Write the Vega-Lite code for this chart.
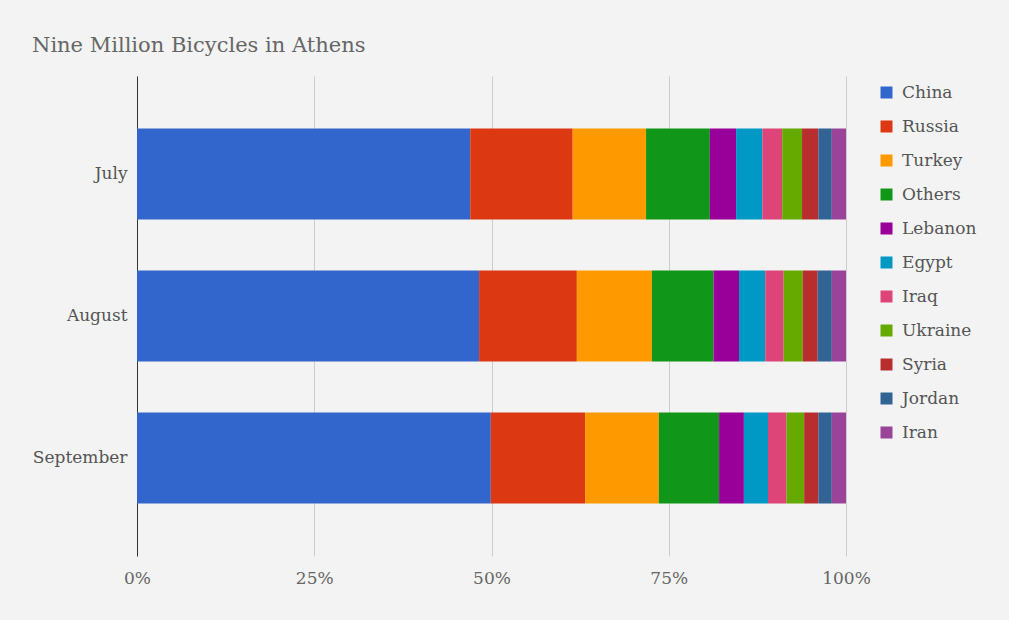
{
  "$schema": "https://vega.github.io/schema/vega-lite/v6.json",
  "autosize": {"type": "none"},
  "width": 709,
  "height": 480,
  "padding": {"left": 137, "top": 76, "right": 163, "bottom": 64},
  "background": "#f3f3f3",
  "title": {
    "text": "Nine Million Bicycles in Athens",
    "anchor": "start",
    "frame": "group",
    "dx": -105,
    "offset": 20,
    "font": "DejaVu Serif",
    "fontSize": 21,
    "fontWeight": "normal",
    "color": "#666666"
  },
  "config": {
    "view": {"stroke": null},
    "font": "DejaVu Serif"
  },
  "data": {
    "values": [
      {"month": "July", "country": "China", "k": 1, "value": 47.0},
      {"month": "July", "country": "Russia", "k": 2, "value": 14.45},
      {"month": "July", "country": "Turkey", "k": 3, "value": 10.35},
      {"month": "July", "country": "Others", "k": 4, "value": 9.0},
      {"month": "July", "country": "Lebanon", "k": 5, "value": 3.7},
      {"month": "July", "country": "Egypt", "k": 6, "value": 3.7},
      {"month": "July", "country": "Iraq", "k": 7, "value": 2.8},
      {"month": "July", "country": "Ukraine", "k": 8, "value": 2.8},
      {"month": "July", "country": "Syria", "k": 9, "value": 2.3},
      {"month": "July", "country": "Jordan", "k": 10, "value": 1.9},
      {"month": "July", "country": "Iran", "k": 11, "value": 2.0},
      {"month": "August", "country": "China", "k": 1, "value": 48.3},
      {"month": "August", "country": "Russia", "k": 2, "value": 13.8},
      {"month": "August", "country": "Turkey", "k": 3, "value": 10.6},
      {"month": "August", "country": "Others", "k": 4, "value": 8.7},
      {"month": "August", "country": "Lebanon", "k": 5, "value": 3.6},
      {"month": "August", "country": "Egypt", "k": 6, "value": 3.7},
      {"month": "August", "country": "Iraq", "k": 7, "value": 2.6},
      {"month": "August", "country": "Ukraine", "k": 8, "value": 2.7},
      {"month": "August", "country": "Syria", "k": 9, "value": 2.1},
      {"month": "August", "country": "Jordan", "k": 10, "value": 2.0},
      {"month": "August", "country": "Iran", "k": 11, "value": 2.0},
      {"month": "September", "country": "China", "k": 1, "value": 49.9},
      {"month": "September", "country": "Russia", "k": 2, "value": 13.3},
      {"month": "September", "country": "Turkey", "k": 3, "value": 10.4},
      {"month": "September", "country": "Others", "k": 4, "value": 8.5},
      {"month": "September", "country": "Lebanon", "k": 5, "value": 3.5},
      {"month": "September", "country": "Egypt", "k": 6, "value": 3.4},
      {"month": "September", "country": "Iraq", "k": 7, "value": 2.6},
      {"month": "September", "country": "Ukraine", "k": 8, "value": 2.5},
      {"month": "September", "country": "Syria", "k": 9, "value": 2.0},
      {"month": "September", "country": "Jordan", "k": 10, "value": 1.9},
      {"month": "September", "country": "Iran", "k": 11, "value": 2.0}
    ]
  },
  "mark": {"type": "bar"},
  "encoding": {
    "y": {
      "field": "month",
      "type": "nominal",
      "sort": ["July", "August", "September"],
      "scale": {"paddingInner": 0.36, "paddingOuter": 0.37},
      "axis": {
        "title": null,
        "ticks": false,
        "domain": true,
        "domainColor": "#333333",
        "domainWidth": 1,
        "labelFont": "DejaVu Serif",
        "labelFontSize": 17,
        "labelColor": "#555555",
        "labelPadding": 10
      }
    },
    "x": {
      "field": "value",
      "type": "quantitative",
      "stack": "normalize",
      "scale": {"domain": [0, 1], "nice": false},
      "axis": {
        "title": null,
        "values": [0, 0.25, 0.5, 0.75, 1],
        "format": ".0%",
        "ticks": false,
        "domain": false,
        "grid": true,
        "gridColor": "#cccccc",
        "labelFont": "DejaVu Serif",
        "labelFontSize": 17,
        "labelColor": "#666666",
        "labelPadding": 14,
        "labelFlush": false
      }
    },
    "color": {
      "field": "country",
      "type": "nominal",
      "sort": ["China", "Russia", "Turkey", "Others", "Lebanon", "Egypt", "Iraq", "Ukraine", "Syria", "Jordan", "Iran"],
      "scale": {
        "domain": ["China", "Russia", "Turkey", "Others", "Lebanon", "Egypt", "Iraq", "Ukraine", "Syria", "Jordan", "Iran"],
        "range": ["#3366cc", "#dc3912", "#ff9900", "#109618", "#990099", "#0099c6", "#dd4477", "#66aa00", "#b82e2e", "#316395", "#994499"]
      },
      "legend": {
        "title": null,
        "orient": "none",
        "legendX": 741,
        "legendY": 8,
        "symbolType": "square",
        "symbolSize": 144,
        "symbolStrokeWidth": 0,
        "rowPadding": 16,
        "labelFont": "DejaVu Serif",
        "labelFontSize": 17,
        "labelColor": "#555555",
        "labelOffset": 7,
        "labelLimit": 200
      }
    },
    "order": {"field": "k", "type": "quantitative", "sort": "ascending"}
  }
}
